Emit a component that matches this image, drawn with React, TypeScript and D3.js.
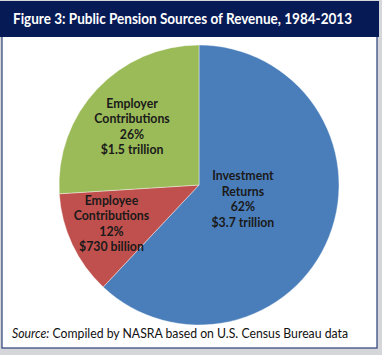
import React from "react";
import * as d3 from "d3";

const titleText = "Figure 3: Public Pension Sources of Revenue, 1984-2013";
const categories = ["Investment Returns", "Employee Contributions", "Employer Contributions"];
const labelLines = [["Investment", "Returns"], ["Employee", "Contributions"], ["Employer", "Contributions"]];
const shares = [62, 12, 26];
const amounts = ["$3.7 trillion", "$730 billion", "$1.5 trillion"];
const colors = ["#4a7ebb", "#c0504d", "#9bbb59"];
const sourceLabel = "Source:";
const sourceText = " Compiled by NASRA based on U.S. Census Bureau data";

const W = 382, H = 355;
const cx = 199, cy = 185, R = 140;
// label placement: distance from centre as fraction of radius, and angular nudge (radians)
const labelRadius = [0.33, 0.685, 0.633];
const labelNudge = [-0.059, 0.02, -0.04];

export default function App() {
  const data = categories.map((c, i) => ({ c, v: shares[i], i }));
  const pie = d3.pie<any>().sort(null).value((d: any) => d.v);
  const arcs = pie(data);
  const arc = d3.arc<any>().innerRadius(0).outerRadius(R);
  const font = "Lato, 'Open Sans', sans-serif";
  return (
    <svg width={W} height={H} style={{ position: "absolute", left: 0, top: 0 }}>
      <rect x={0} y={0} width={W} height={H} fill="#d4d6da" />
      <rect x={2} y={36} width={375} height={312} fill="#ffffff" stroke="#2b3f7a" strokeWidth={1.2} />
      <rect x={0} y={1} width={379} height={36} fill="#061a55" />
      <text x={13} y={23.5} fill="#fff" fontFamily={font} fontWeight="bold" fontSize={14.5}
        textLength={339} lengthAdjust="spacingAndGlyphs">{titleText}</text>
      <g transform={`translate(${cx},${cy})`}>
        {arcs.map((a, i) => (
          <path key={i} d={arc(a) as string} fill={colors[i]} stroke="#fff" strokeWidth={0.4} />
        ))}
        {arcs.map((a, i) => {
          const mid = (a.startAngle + a.endAngle) / 2 + labelNudge[i];
          const r = R * labelRadius[i];
          const lx = r * Math.sin(mid);
          const ly = -r * Math.cos(mid);
          const lines = [...labelLines[i], `${shares[i]}%`, amounts[i]];
          return (
            <text key={"l" + i} x={lx} y={ly} textAnchor="middle" fontFamily={font}
              fontWeight="bold" fontSize={12.3} fill="#1a1a1a">
              {lines.map((t, k) => (
                <tspan key={k} x={lx} y={ly + (k - 1.5) * 15.5 + 4}>{t}</tspan>
              ))}
            </text>
          );
        })}
      </g>
      <text x={12} y={338} fontFamily={font} fontSize={12.5} fill="#111"
        textLength={336} lengthAdjust="spacingAndGlyphs">
        <tspan fontStyle="italic">{sourceLabel}</tspan>{sourceText}
      </text>
    </svg>
  );
}
